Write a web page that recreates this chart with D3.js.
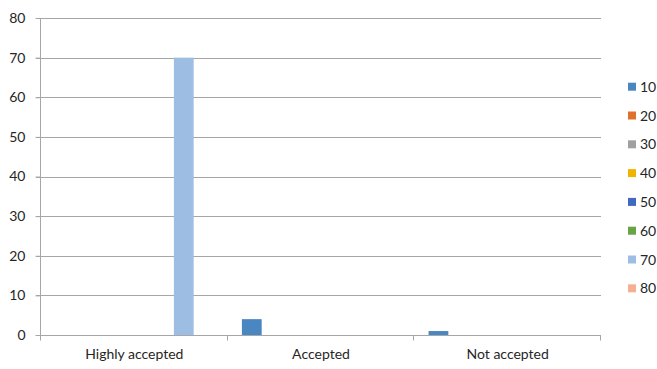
<!DOCTYPE html>
<html><head><meta charset="utf-8">
<script src="https://cdn.jsdelivr.net/npm/d3@7"></script>
<style>body{margin:0;background:#fff}svg{display:block}text{font-family:Lato,"Open Sans",sans-serif}</style>
</head><body><svg id="c" width="657" height="369"></svg>
<script>
const categories = ["Highly accepted", "Accepted", "Not accepted"];
const seriesNames = ["10", "20", "30", "40", "50", "60", "70", "80"];
const s10 = [0, 4, 1];
const s20 = [0, 0, 0];
const s30 = [0, 0, 0];
const s40 = [0, 0, 0];
const s50 = [0, 0, 0];
const s60 = [0, 0, 0];
const s70 = [70, 0, 0];
const s80 = [0, 0, 0];
const seriesValues = [s10, s20, s30, s40, s50, s60, s70, s80];
const colors = ["#4a86c0", "#e0702e", "#a0a0a0", "#f0b400", "#4169c0", "#6aa343", "#9dbde3", "#f4b092"];
const yTicks = [0, 10, 20, 30, 40, 50, 60, 70, 80];

const svg = d3.select("#c");
const m = {l: 41, r: 601, t: 18, b: 335};
const x = d3.scaleBand().domain(categories).range([m.l, m.r]).paddingInner(0).paddingOuter(0);
const x1 = d3.scaleBand().domain(seriesNames).range([0, x.bandwidth()]).paddingInner(0).paddingOuter(0.72);
const y = d3.scaleLinear().domain([0, 80]).range([m.b, m.t]);

// gridlines
svg.append("g").selectAll("line").data(yTicks.filter(d => d > 0)).join("line")
  .attr("x1", m.l - 5).attr("x2", m.r).attr("y1", d => Math.round(y(d)) + 0.5).attr("y2", d => Math.round(y(d)) + 0.5)
  .attr("stroke", "#a6a6a6").attr("stroke-width", 1);

// bars
const rows = [];
categories.forEach((c, ci) => seriesNames.forEach((s, si) => rows.push({c, s, v: seriesValues[si][ci], col: colors[si]})));
svg.append("g").selectAll("rect").data(rows.filter(d => d.v > 0)).join("rect")
  .attr("x", d => x(d.c) + x1(d.s)).attr("width", x1.bandwidth())
  .attr("y", d => y(d.v)).attr("height", d => y(0) - y(d.v)).attr("fill", d => d.col);

// y axis
const ya = svg.append("g").attr("transform", `translate(${m.l - 0.5},0)`)
  .call(d3.axisLeft(y).tickValues(yTicks).tickSize(5).tickPadding(10));
ya.select(".domain").attr("stroke", "#a6a6a6").attr("d", `M0,${m.t}V${m.b + 5}`);
ya.selectAll(".tick line").attr("stroke", "#a6a6a6");
ya.selectAll(".tick text").attr("font-size", 14).attr("fill", "#262626").attr("font-family", "Lato");

// x axis
const xa = svg.append("g").attr("transform", `translate(0,${Math.round(y(0)) + 0.5})`);
xa.append("line").attr("x1", m.l - 5).attr("x2", m.r).attr("stroke", "#a6a6a6");
const bounds = [m.l, ...categories.map(c => x(c) + x.bandwidth())];
xa.selectAll("line.t").data(bounds).join("line").attr("class", "t")
  .attr("x1", d => Math.round(d) - 0.5).attr("x2", d => Math.round(d) - 0.5).attr("y1", 0).attr("y2", 5).attr("stroke", "#a6a6a6");
xa.selectAll("text").data(categories).join("text")
  .attr("x", d => x(d) + x.bandwidth() / 2).attr("y", 23).attr("text-anchor", "middle")
  .attr("font-size", 14).attr("fill", "#262626").text(d => d);

// legend
const lg = svg.append("g");
const ly = d3.scaleLinear().domain([0, 7]).range([86.7, 288.3]);
seriesNames.forEach((s, i) => {
  lg.append("rect").attr("x", 628).attr("y", ly(i) - 4).attr("width", 8).attr("height", 8).attr("fill", colors[i]);
  lg.append("text").attr("x", 640).attr("y", ly(i) + 5).attr("font-size", 14).attr("fill", "#262626").text(s);
});
</script></body></html>
